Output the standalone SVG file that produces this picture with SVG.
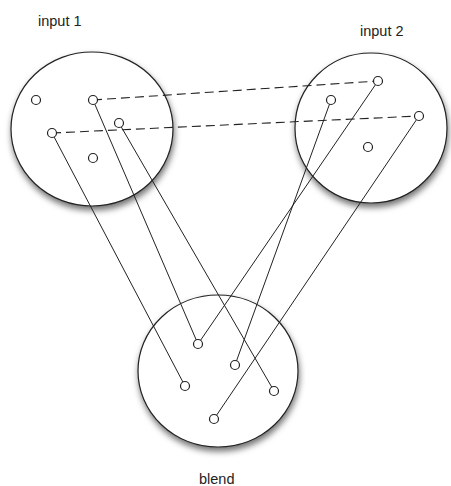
<svg xmlns="http://www.w3.org/2000/svg" width="451" height="486" viewBox="0 0 451 486">
<defs>
<filter id="sh" x="-20%" y="-20%" width="140%" height="150%">
<feDropShadow dx="1" dy="4" stdDeviation="3" flood-color="#000" flood-opacity="0.55"/>
</filter>
<style>
.big{fill:#fff;stroke:#222;stroke-width:1.2;filter:url(#sh)}
.pt{fill:#fff;stroke:#222;stroke-width:1.2}
.ln{stroke:#222;stroke-width:1;fill:none}
.ds{stroke:#222;stroke-width:1.1;fill:none;stroke-dasharray:9 5}
.lbl{font-family:"Liberation Sans",Arial,sans-serif;font-size:14.5px;fill:#222}
</style>
</defs>
<rect width="451" height="486" fill="#fff"/>
<g id="input1">
<ellipse class="big" cx="92" cy="129" rx="81" ry="77"/>
<text class="lbl" x="38" y="26">input 1</text>
</g>
<g id="input2">
<ellipse class="big" cx="371" cy="128" rx="76" ry="75"/>
<text class="lbl" x="360" y="36">input 2</text>
</g>
<g id="blend">
<ellipse class="big" cx="218" cy="371" rx="80" ry="76"/>
<text class="lbl" x="199" y="484">blend</text>
</g>
<g id="connectors">
<line class="ds" x1="93" y1="100" x2="378" y2="81"/>
<line class="ds" x1="52" y1="133" x2="419" y2="116"/>
<line class="ln" x1="52" y1="133" x2="185" y2="386"/>
<line class="ln" x1="93" y1="100" x2="198" y2="344"/>
<line class="ln" x1="119" y1="123" x2="274" y2="391"/>
<line class="ln" x1="378" y1="81" x2="198" y2="344"/>
<line class="ln" x1="331" y1="100" x2="235" y2="365"/>
<line class="ln" x1="419" y1="116" x2="214" y2="419"/>
</g>
<g id="points1">
<circle class="pt" cx="36" cy="100" r="4.5"/>
<circle class="pt" cx="93" cy="100" r="4.5"/>
<circle class="pt" cx="52" cy="133" r="4.5"/>
<circle class="pt" cx="119" cy="123" r="4.5"/>
<circle class="pt" cx="93" cy="158" r="4.5"/>
</g>
<g id="points2">
<circle class="pt" cx="378" cy="81" r="4.5"/>
<circle class="pt" cx="331" cy="100" r="4.5"/>
<circle class="pt" cx="419" cy="116" r="4.5"/>
<circle class="pt" cx="368" cy="147" r="4.5"/>
</g>
<g id="pointsb">
<circle class="pt" cx="198" cy="344" r="4.5"/>
<circle class="pt" cx="235" cy="365" r="4.5"/>
<circle class="pt" cx="185" cy="386" r="4.5"/>
<circle class="pt" cx="274" cy="391" r="4.5"/>
<circle class="pt" cx="214" cy="419" r="4.5"/>
</g>
</svg>
